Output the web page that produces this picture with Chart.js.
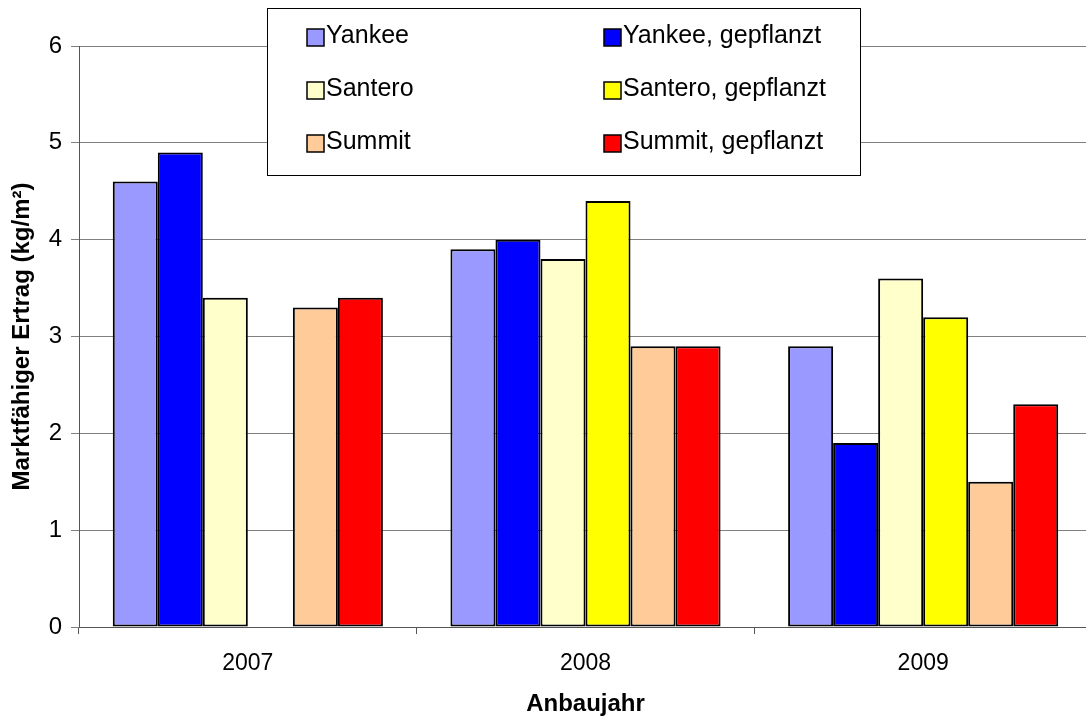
<!DOCTYPE html>
<html>
<head>
<meta charset="utf-8">
<script src="https://cdn.jsdelivr.net/npm/chart.js@4/dist/chart.umd.min.js"></script>
<style>
  html, body { margin: 0; padding: 0; background: #fff; overflow: hidden; }
  #wrap { width: 1092px; height: 722px; }
</style>
</head>
<body>
<div id="wrap"><canvas id="chart" width="1092" height="722"></canvas></div>
<script>
// ── Data ───────────────────────────────────────────────────────────────────
const years = ["2007", "2008", "2009"];
const yankee           = [4.6, 3.9, 2.9];
const yankeeGepflanzt  = [4.9, 4.0, 1.9];
const santero          = [3.4, 3.8, 3.6];
const santeroGepflanzt = [null, 4.4, 3.2];
const summit           = [3.3, 2.9, 1.5];
const summitGepflanzt  = [3.4, 2.9, 2.3];

const FONT = "'Liberation Sans', Arial, sans-serif";

// ── Boxed legend drawn over the plot, two columns ──────────────────────────
const boxLegend = {
  id: "boxLegend",
  afterDraw(chart) {
    const ctx = chart.ctx;
    ctx.save();
    ctx.fillStyle = "#fff";
    ctx.fillRect(267, 8, 594, 168);
    ctx.strokeStyle = "#000";
    ctx.lineWidth = 1;
    ctx.strokeRect(267.5, 8.5, 593, 167);

    const colX = [307, 604];
    const rowBase = [43, 96, 149];
    ctx.font = "25px " + FONT;
    ctx.textBaseline = "alphabetic";
    chart.data.datasets.forEach((ds, i) => {
      const col = i % 2, row = Math.floor(i / 2);
      const x = colX[col], base = rowBase[row];
      ctx.fillStyle = ds.backgroundColor;
      ctx.fillRect(x, base - 14, 17, 17);
      ctx.strokeStyle = "#000";
      ctx.lineWidth = 1.5;
      ctx.strokeRect(x, base - 14, 17, 17);
      ctx.fillStyle = "#000";
      ctx.fillText(ds.label, x + 19, base);
    });
    ctx.restore();
  },
};

function bar(label, data, color) {
  return {
    label,
    data,
    backgroundColor: color,
    borderColor: "#000",
    borderWidth: 2,
    borderSkipped: false,
  };
}

new Chart(document.getElementById("chart"), {
  type: "bar",
  data: {
    labels: years,
    datasets: [
      bar("Yankee", yankee, "#9999FF"),
      bar("Yankee, gepflanzt", yankeeGepflanzt, "#0000FF"),
      bar("Santero", santero, "#FFFFCC"),
      bar("Santero, gepflanzt", santeroGepflanzt, "#FFFF00"),
      bar("Summit", summit, "#FFCC99"),
      bar("Summit, gepflanzt", summitGepflanzt, "#FF0000"),
    ],
  },
  options: {
    responsive: false,
    animation: false,
    devicePixelRatio: 1,
    layout: { padding: { top: 46, right: 0, left: 0, bottom: 0 } },
    datasets: { bar: { categoryPercentage: 0.8, barPercentage: 1.0 } },
    plugins: {
      legend: { display: false },
      tooltip: { enabled: false },
    },
    scales: {
      x: {
        afterFit(scale) { scale.height = 95; },
        grid: { display: true, drawOnChartArea: false, tickLength: 7, color: "#555" },
        border: { color: "#555", width: 1 },
        ticks: { color: "#000", font: { family: FONT, size: 23 }, padding: 16, maxRotation: 0 },
        title: {
          display: true,
          text: "Anbaujahr",
          color: "#000",
          font: { family: FONT, size: 24, weight: "bold" },
          padding: { top: 0, bottom: 3 },
        },
      },
      y: {
        min: 0,
        max: 6,
        afterFit(scale) { scale.width = 79; },
        grid: { color: "#808080", tickLength: 8 },
        border: { color: "#555", width: 1 },
        ticks: { stepSize: 1, color: "#000", font: { family: FONT, size: 24 }, padding: 9 },
        title: {
          display: true,
          text: "Marktfähiger Ertrag (kg/m²)",
          color: "#000",
          font: { family: FONT, size: 24, weight: "bold" },
          padding: { top: 8, bottom: 0 },
        },
      },
    },
  },
  plugins: [boxLegend],
});
</script>
</body>
</html>
